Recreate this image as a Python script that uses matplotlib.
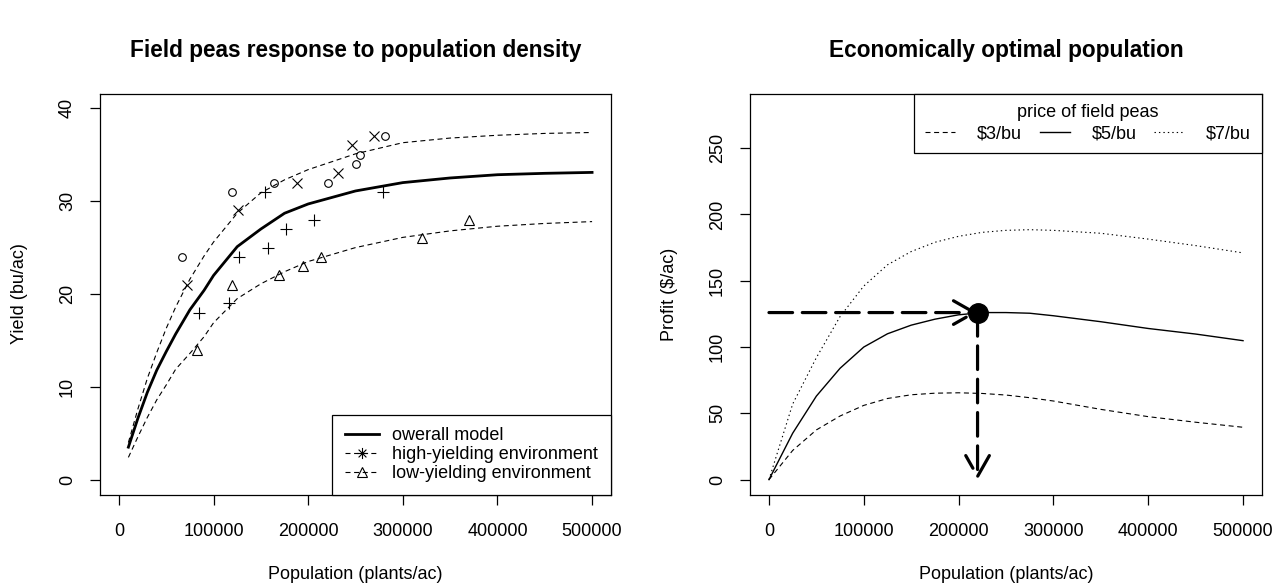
import matplotlib
matplotlib.use("Agg")
import matplotlib.pyplot as plt
from matplotlib.lines import Line2D
from matplotlib.patches import FancyArrowPatch
from matplotlib.path import Path

plt.rcParams["font.family"] = ["Liberation Sans", "DejaVu Sans"]
plt.rcParams["lines.scale_dashes"] = False

# ---- left panel: yield response ----
pop_fit = [10000, 20000, 30000, 40000, 50000, 60000, 75000, 90000, 100000, 125000,
           150000, 175000, 200000, 250000, 300000, 350000, 400000, 450000, 500000]
yield_overall = [3.5, 6.6, 9.4, 11.8, 13.8, 15.7, 18.3, 20.4, 22.0, 25.1,
                 27.0, 28.7, 29.7, 31.1, 32.0, 32.5, 32.85, 33.0, 33.1]
yield_high = [4.0, 7.6, 10.9, 13.7, 16.3, 18.6, 21.6, 24.1, 25.6, 28.7,
              30.9, 32.3, 33.4, 35.1, 36.3, 36.8, 37.1, 37.3, 37.4]
yield_low = [2.4, 4.6, 6.7, 8.6, 10.2, 11.9, 13.6, 15.4, 16.9, 19.5,
             21.1, 22.4, 23.5, 25.0, 26.1, 26.8, 27.3, 27.6, 27.8]

circ_x = [67000, 119000, 164000, 221000, 250000, 255000, 281000]
circ_y = [24, 31, 32, 32, 34, 35, 37]
cross_x = [71500, 125500, 188000, 232000, 246000, 270000]
cross_y = [21, 29, 32, 33, 36, 37]
plus_x = [85000, 116500, 127000, 154000, 158000, 176500, 206500, 279000]
plus_y = [18, 19, 24, 31, 25, 27, 28, 31]
tri_x = [82000, 119000, 169500, 194000, 214000, 320000, 370000]
tri_y = [14, 21, 22, 23, 24, 26, 28]

left_labels = ["owerall model", "high-yielding environment", "low-yielding environment"]

# ---- right panel: profit ----
pop_profit = [0, 25000, 50000, 75000, 100000, 125000, 150000, 175000, 200000,
              225000, 250000, 275000, 300000, 350000, 400000, 450000, 500000]
profit_3 = [0, 22, 37.5, 48, 56, 61.2, 64, 65.2, 65.5, 65, 63.8, 61.8, 59.3, 53, 47.5, 43.3, 39.5]
profit_5 = [0, 35, 63, 84, 100, 110, 116.5, 121, 124.3, 126, 126, 125.5, 123.6, 119.1, 114, 109.8, 104.8]
profit_7 = [0, 57, 92, 123, 146, 162, 172, 179, 183.5, 186.5, 188, 188.5, 188, 185.8, 181.4, 176.5, 171]
price_labels = ["$3/bu", "$5/bu", "$7/bu"]
opt_pop, opt_profit = 220000, 126

x_ticks = [0, 100000, 200000, 300000, 400000, 500000]
yield_ticks = [0, 10, 20, 30, 40]
profit_ticks = [0, 50, 100, 150, 200, 250]

DASH = (0, (3.6, 2.6))
DOT = (0, (1.0, 2.2))
BIGDASH = (0, (17, 7))
FS = 13

# R's pch=8 asterisk
asterisk = Path([(-1, 0), (1, 0), (0, -1), (0, 1), (-.7, -.7), (.7, .7), (-.7, .7), (.7, -.7)],
                [Path.MOVETO, Path.LINETO] * 4)


def style(ax, ylim, yticks, ylabel, title):
    ax.set_xlim(-20000, 520000)
    ax.set_ylim(*ylim)
    ax.set_xticks(x_ticks)
    ax.set_xticklabels([str(t) for t in x_ticks])
    ax.set_yticks(yticks)
    ax.set_yticklabels([str(t) for t in yticks])
    ax.tick_params(axis="both", direction="out", length=7.2, width=0.9, labelsize=FS)
    ax.tick_params(axis="x", pad=13)
    ax.tick_params(axis="y", pad=10)
    for lab in ax.get_yticklabels():
        lab.set_rotation(90)
        lab.set_va("center")
    for sp in ax.spines.values():
        sp.set_linewidth(0.9)
    ax.set_xlabel("Population (plants/ac)", fontsize=FS)
    ax.xaxis.set_label_coords(0.5, -0.2)
    ax.xaxis.label.set_va("center")
    ax.set_ylabel(ylabel, fontsize=FS)
    ax.yaxis.set_label_coords(-0.157, 0.5)
    ax.yaxis.label.set_va("center")
    ax.set_title(title, fontsize=16.3, fontweight="bold", pad=26)


fig = plt.figure(figsize=(12.82, 5.86), dpi=100)
ax1 = fig.add_axes([100 / 1282, 91.5 / 586, 511 / 1282, 401 / 586])
ax2 = fig.add_axes([750 / 1282, 91.5 / 586, 512 / 1282, 401 / 586])

# left panel
ax1.plot(pop_fit, yield_overall, color="black", lw=2.0)
ax1.plot(pop_fit, yield_high, color="black", lw=0.8, linestyle=DASH)
ax1.plot(pop_fit, yield_low, color="black", lw=0.8, linestyle=DASH)
mk = dict(linestyle="none", color="black", mfc="none", mew=0.8)
ax1.plot(circ_x, circ_y, marker="o", ms=5.5, **mk)
ax1.plot(cross_x, cross_y, marker="x", ms=6.5, **mk)
ax1.plot(plus_x, plus_y, marker="+", ms=9, **mk)
ax1.plot(tri_x, tri_y, marker="^", ms=7, **mk)
style(ax1, (-1.6, 41.6), yield_ticks, "Yield (bu/ac)", "Field peas response to population density")

h1 = [Line2D([], [], color="black", lw=2.0),
      Line2D([], [], color="black", lw=0.8, linestyle=DASH, marker=asterisk, ms=8, mfc="none", mew=0.8),
      Line2D([], [], color="black", lw=0.8, linestyle=DASH, marker="^", ms=7, mfc="none", mew=0.8)]
leg1 = ax1.legend(h1, left_labels, loc="lower right", borderaxespad=0, fancybox=False,
                  edgecolor="black", framealpha=1, fontsize=FS, handlelength=1.9,
                  handletextpad=0.75, labelspacing=0.1, borderpad=0.7, numpoints=1)
leg1.get_frame().set_linewidth(0.9)

# right panel
ax2.plot(pop_profit, profit_3, color="black", lw=0.8, linestyle=DASH)
ax2.plot(pop_profit, profit_5, color="black", lw=1.0)
ax2.plot(pop_profit, profit_7, color="black", lw=0.8, linestyle=DOT)
arrow_kw = dict(arrowstyle="->,head_length=15,head_width=8.5", mutation_scale=1,
                color="black", lw=2.3, linestyle=BIGDASH, shrinkA=0, shrinkB=0)
ax2.add_patch(FancyArrowPatch((0, opt_profit), (opt_pop, opt_profit), **arrow_kw))
ax2.add_patch(FancyArrowPatch((opt_pop, opt_profit), (opt_pop, 0), **arrow_kw))
ax2.plot([opt_pop], [opt_profit], marker="o", ms=14, color="black", linestyle="none", zorder=5)
style(ax2, (-11.2, 291.2), profit_ticks, "Profit ($/ac)", "Economically optimal population")

h2 = [Line2D([], [], color="black", lw=0.8, linestyle=DASH),
      Line2D([], [], color="black", lw=1.0),
      Line2D([], [], color="black", lw=0.8, linestyle=DOT)]
leg2 = ax2.legend(h2, price_labels, title="price of field peas", ncol=3, loc="upper right",
                  borderaxespad=0, fancybox=False, edgecolor="black", framealpha=1,
                  fontsize=FS, title_fontsize=FS, handlelength=1.67, handletextpad=1.2,
                  columnspacing=1.0, labelspacing=0.22, borderpad=0.6)
leg2.get_frame().set_linewidth(0.9)

fig.savefig("out.png", dpi=100)
